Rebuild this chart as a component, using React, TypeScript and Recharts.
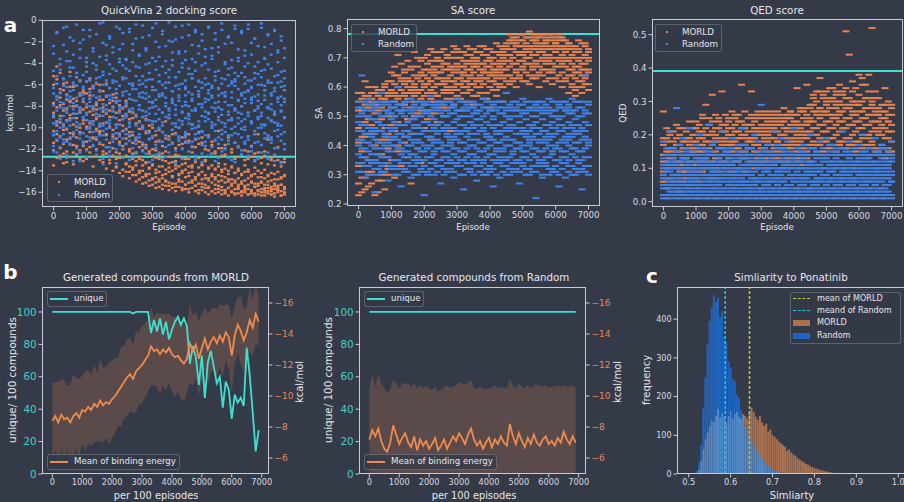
import React from "react";
import {
  ScatterChart,
  Scatter,
  XAxis,
  YAxis,
  ReferenceLine,
  ComposedChart,
  Line,
  Area,
  Bar,
} from "recharts";

// ---------- data ----------
const episodes = [
  0, 100, 200, 300, 400, 500, 600, 700, 800, 900, 1000, 1100, 1200, 1300, 1400, 1500, 1600, 1700, 1800, 1900,
  2000, 2100, 2200, 2300, 2400, 2500, 2600, 2700, 2800, 2900, 3000, 3100, 3200, 3300, 3400, 3500, 3600, 3700,
  3800, 3900, 4000, 4100, 4200, 4300, 4400, 4500, 4600, 4700, 4800, 4900, 5000, 5100, 5200, 5300, 5400, 5500,
  5600, 5700, 5800, 5900, 6000, 6100, 6200, 6300, 6400, 6500, 6600, 6700, 6800, 6900, 7000,
];
const episodeTicks = [0, 1000, 2000, 3000, 4000, 5000, 6000, 7000];

// docking score, values sampled per 100 episodes (two batches each)
const dockRandom = [
  [-3.1, -6.8, -8.9, -10.4, -11.7], [-1.2, -7.4, -9.6, -5.9, -12.3], [-4.6, -8.1, -10.9, -6.7, -9.2],
  [-2.3, -5.4, -9.8, -7.7, -11.1], [-0.6, -6.2, -8.4, -10.2, -12.8], [-3.8, -7.1, -9.3, -11.5, -5.2],
  [-1.9, -6.5, -8.7, -10.8, -4.4], [-4.9, -7.9, -9.9, -6.1, -11.9], [-2.7, -5.7, -8.2, -10.6, -13.1],
  [-0.9, -6.9, -9.1, -7.3, -11.3], [-3.5, -4.8, -8.6, -10.1, -12.1], [-1.5, -7.6, -9.4, -5.5, -10.9],
  [-2.9, -6.3, -8.0, -11.6, -9.7], [-4.2, -7.2, -10.3, -5.8, -12.5], [-0.3, -6.6, -8.8, -9.9, -11.4],
  [-2.1, -5.1, -7.8, -10.7, -12.9], [-3.3, -6.0, -9.5, -8.3, -11.8], [-1.7, -7.0, -4.1, -10.0, -12.2],
  [-2.5, -5.6, -8.5, -9.0, -11.0], [-4.7, -6.4, -9.7, -7.5, -13.3], [-0.8, -3.9, -8.1, -10.5, -11.6],
  [-2.2, -6.7, -9.2, -5.3, -12.0], [-3.6, -7.7, -10.6, -8.7, -4.5], [-1.1, -5.9, -8.3, -11.2, -9.6],
  [-2.8, -6.1, -7.4, -10.4, -12.6], [-0.4, -4.3, -8.9, -9.8, -11.5], [-3.2, -6.8, -7.9, -10.9, -5.6],
  [-1.6, -5.2, -9.0, -11.7, -8.4], [-2.6, -7.3, -6.2, -10.3, -12.4], [-4.0, -5.5, -8.7, -9.3, -11.1],
  [-0.7, -6.5, -7.6, -10.8, -13.0], [-2.0, -4.6, -9.4, -8.0, -11.9], [-3.4, -7.1, -5.7, -10.1, -12.3],
  [-1.3, -6.0, -8.6, -9.5, -11.3], [-2.4, -4.9, -7.2, -10.7, -12.7], [-0.2, -5.8, -8.2, -9.1, -11.6],
  [-3.0, -6.6, -7.7, -10.2, -4.2], [-1.8, -5.3, -9.6, -8.8, -12.1], [-2.9, -7.5, -6.4, -11.0, -10.0],
  [-0.5, -4.4, -8.0, -9.7, -12.9], [-3.7, -6.2, -7.0, -10.6, -11.4], [-1.4, -5.0, -8.9, -9.2, -12.2],
  [-2.3, -6.9, -7.5, -11.3, -5.4], [-0.9, -4.7, -8.4, -10.0, -12.6], [-3.1, -5.6, -9.9, -7.8, -11.0],
  [-1.9, -6.3, -8.1, -10.4, -13.2], [-2.7, -4.0, -7.3, -9.4, -11.7], [-0.6, -5.9, -8.7, -10.9, -6.8],
  [-3.3, -7.0, -6.1, -9.8, -12.4], [-1.2, -4.8, -8.5, -10.3, -11.2], [-2.5, -6.4, -7.6, -9.0, -12.8],
  [-0.3, -5.4, -8.3, -11.1, -10.2], [-3.9, -6.7, -7.1, -9.6, -12.0], [-1.6, -4.5, -8.8, -10.7, -11.5],
  [-2.1, -5.7, -7.9, -9.3, -13.0], [-0.8, -6.1, -8.2, -10.5, -4.9], [-3.5, -5.2, -9.1, -7.4, -11.8],
  [-1.0, -6.8, -8.0, -10.1, -12.5], [-2.8, -4.3, -7.7, -9.9, -11.3], [-0.4, -5.6, -8.6, -10.8, -6.5],
  [-3.2, -7.2, -6.3, -9.5, -12.2], [-1.7, -4.9, -8.4, -11.4, -10.6], [-2.4, -6.0, -7.5, -9.2, -12.9],
  [-0.7, -5.3, -8.9, -10.0, -11.6], [-3.6, -6.5, -7.0, -9.7, -4.6], [-1.3, -4.1, -8.1, -10.9, -12.3],
  [-2.2, -5.8, -7.8, -9.4, -11.1], [-0.9, -6.6, -8.7, -10.3, -13.1], [-3.0, -5.1, -7.3, -9.8, -11.9],
  [-1.5, -6.2, -8.5, -10.6, -5.7], [-2.6, -4.7, -7.6, -9.1, -12.0],
];
const dockRandomB = [
  [-2.4, -4.7, -6.3, -7.9, -8.8, -9.6, -10.7, -12.2], [-1.1, -5.2, -5.9, -7.1, -8.4, -10.3, -11.1, -9.5],
  [-3.6, -4.1, -6.8, -7.6, -9.2, -10.0, -11.8, -12.9], [-0.7, -5.5, -6.1, -8.2, -8.9, -9.9, -10.6, -11.4],
  [-2.9, -3.8, -7.3, -7.0, -8.6, -9.4, -11.3, -12.5], [-1.6, -4.4, -6.6, -8.0, -9.8, -10.9, -11.6, -7.4],
  [-3.2, -5.8, -6.0, -7.7, -8.3, -9.1, -10.4, -13.1], [-0.4, -4.9, -5.3, -7.2, -9.5, -10.2, -11.9, -8.7],
  [-2.1, -3.5, -6.9, -8.1, -8.5, -9.7, -11.0, -12.3], [-1.8, -5.1, -6.4, -7.5, -9.0, -10.5, -11.5, -6.2],
  [-3.9, -4.3, -5.7, -7.8, -8.8, -9.3, -10.8, -12.7], [-0.9, -5.6, -6.7, -7.3, -8.0, -9.9, -11.2, -10.1],
  [-2.6, -4.0, -6.2, -8.4, -9.4, -10.4, -11.7, -7.0], [-1.3, -4.6, -5.4, -7.6, -8.7, -9.0, -10.9, -12.1],
  [-3.4, -5.3, -6.5, -7.1, -9.6, -10.7, -11.4, -8.2], [-0.2, -4.8, -6.0, -8.3, -8.9, -9.8, -10.3, -13.4],
  [-2.3, -3.7, -7.0, -7.9, -8.6, -10.1, -11.1, -5.6], [-1.5, -5.0, -6.3, -7.4, -9.3, -9.6, -11.8, -12.6],
  [-3.0, -4.5, -5.8, -8.0, -8.4, -10.6, -11.3, -7.2], [-0.6, -5.7, -6.8, -7.7, -9.1, -10.0, -10.5, -12.0],
  [-2.7, -3.6, -6.1, -8.6, -9.7, -10.8, -11.6, -7.5], [-1.2, -4.2, -5.5, -7.0, -8.1, -9.2, -11.0, -12.8],
  [-3.7, -5.4, -6.6, -7.8, -8.8, -10.2, -11.5, -9.0], [-0.8, -4.7, -6.9, -7.3, -9.5, -9.9, -10.7, -13.0],
  [-2.2, -3.9, -5.9, -8.2, -8.5, -10.4, -11.9, -6.4], [-1.7, -5.2, -6.4, -7.5, -9.0, -10.9, -11.2, -12.4],
  [-3.3, -4.4, -6.0, -7.9, -8.3, -9.5, -10.6, -7.1], [-0.5, -5.9, -6.7, -7.2, -9.8, -10.1, -11.4, -12.2],
  [-2.8, -4.1, -5.6, -8.5, -8.9, -9.3, -11.7, -6.8], [-1.4, -4.9, -7.1, -7.6, -8.2, -10.5, -11.0, -13.2],
  [-3.5, -5.5, -6.2, -8.1, -9.4, -9.7, -10.8, -7.7], [-0.3, -3.8, -6.5, -7.4, -8.7, -10.3, -11.6, -12.5],
  [-2.5, -5.1, -5.7, -8.3, -9.2, -10.0, -11.3, -6.9], [-1.0, -4.3, -6.8, -7.0, -8.6, -9.8, -10.4, -12.9],
  [-3.8, -5.8, -6.3, -7.7, -9.0, -10.7, -11.8, -8.0], [-1.9, -4.6, -5.3, -8.4, -8.8, -9.1, -11.1, -12.3],
  [-2.0, -3.7, -6.6, -7.5, -9.6, -10.2, -11.5, -7.3], [-0.6, -5.3, -6.1, -7.9, -8.3, -9.9, -10.6, -13.3],
  [-3.1, -4.8, -7.0, -7.2, -9.3, -10.8, -11.2, -6.0], [-1.6, -4.0, -5.9, -8.6, -8.5, -9.4, -11.9, -12.0],
  [-2.9, -5.6, -6.4, -7.6, -9.1, -10.4, -10.9, -7.9], [-0.4, -4.5, -6.7, -8.0, -8.7, -9.6, -11.4, -12.7],
  [-3.6, -5.0, -5.4, -7.3, -9.7, -10.1, -11.7, -8.4], [-1.1, -3.9, -6.2, -8.2, -8.4, -10.6, -11.0, -13.0],
  [-2.4, -5.7, -6.9, -7.1, -9.4, -9.8, -10.5, -6.6], [-1.3, -4.2, -5.8, -7.8, -8.9, -10.3, -11.6, -12.4],
  [-3.4, -5.4, -6.0, -8.5, -9.0, -10.7, -11.3, -7.6], [-0.7, -4.6, -6.5, -7.4, -8.6, -9.2, -10.8, -12.6],
  [-2.6, -3.6, -7.2, -8.1, -9.5, -10.0, -11.8, -6.3], [-1.8, -5.2, -5.6, -7.7, -8.2, -9.7, -11.1, -13.1],
  [-3.0, -4.7, -6.3, -7.0, -9.3, -10.9, -11.5, -8.1], [-0.9, -5.9, -6.8, -8.3, -8.8, -9.5, -10.6, -12.2],
  [-2.2, -4.1, -5.5, -7.6, -9.9, -10.4, -11.9, -7.0], [-1.5, -5.1, -6.1, -7.9, -8.5, -9.3, -11.2, -12.8],
  [-3.7, -4.4, -6.7, -7.2, -9.1, -10.1, -10.7, -5.9], [-0.5, -5.5, -5.7, -8.4, -8.3, -9.9, -11.4, -13.2],
  [-2.7, -3.8, -6.4, -7.5, -9.6, -10.6, -11.7, -8.6], [-1.2, -4.9, -7.0, -8.0, -8.7, -9.4, -10.9, -12.1],
  [-3.3, -5.3, -5.9, -7.3, -9.2, -10.2, -11.5, -6.7], [-0.8, -4.0, -6.6, -8.6, -8.9, -10.8, -11.1, -12.6],
  [-2.1, -5.6, -6.2, -7.7, -9.4, -9.6, -11.8, -7.4], [-1.7, -4.3, -5.4, -7.1, -8.4, -10.3, -10.6, -13.0],
  [-3.9, -5.0, -6.9, -8.2, -9.0, -10.0, -11.3, -8.0], [-0.3, -4.7, -6.0, -7.8, -8.6, -9.7, -11.6, -12.3],
  [-2.5, -3.5, -6.5, -7.4, -9.8, -10.5, -11.0, -6.1], [-1.4, -5.8, -5.6, -8.1, -8.2, -9.1, -10.7, -12.9],
  [-3.2, -4.5, -6.8, -7.0, -9.3, -10.9, -11.4, -8.3], [-1.0, -5.2, -6.3, -8.5, -8.8, -9.5, -11.9, -12.5],
  [-2.8, -3.9, -5.8, -7.6, -9.6, -10.2, -10.8, -7.2], [-1.9, -4.8, -7.1, -7.9, -8.4, -9.8, -11.2, -13.3],
  [-3.5, -5.4, -6.1, -7.3, -9.0, -10.4, -11.5, -6.5],
];
const dockMorld = [
  [-5.2, -8.6, -10.3, -12.1], [-7.1, -9.4, -11.2, -4.3], [-6.4, -8.9, -10.8, -12.6], [-7.8, -9.7, -5.9, -11.5],
  [-6.9, -8.2, -10.1, -13.2], [-4.8, -9.1, -11.0, -7.5], [-7.3, -8.7, -10.6, -12.3], [-6.1, -9.9, -11.7, -8.0],
  [-5.6, -8.4, -10.4, -12.9], [-7.6, -9.3, -11.3, -6.6], [-6.8, -8.1, -10.0, -12.0], [-7.0, -9.6, -11.8, -5.4],
  [-6.3, -8.8, -10.9, -12.7], [-7.9, -9.2, -11.1, -8.3], [-6.6, -9.8, -10.5, -13.0], [-7.4, -8.5, -11.6, -12.2],
  [-5.9, -9.5, -10.7, -12.4], [-7.7, -9.0, -11.4, -13.3], [-8.1, -10.2, -11.9, -6.9], [-7.2, -9.7, -12.3, -13.6],
  [-8.4, -10.6, -11.5, -12.8], [-8.9, -10.3, -12.0, -13.9], [-7.5, -11.0, -12.6, -13.4], [-9.2, -10.8, -12.2, -14.1],
  [-8.6, -11.4, -12.9, -13.7], [-9.6, -11.2, -13.1, -14.4], [-10.1, -11.8, -12.7, -14.0], [-9.0, -12.1, -13.5, -14.6],
  [-10.5, -11.6, -13.2, -14.3], [-9.8, -12.4, -13.8, -14.9], [-10.9, -12.0, -13.4, -14.7], [-11.3, -12.8, -14.2, -15.1],
  [-10.2, -12.5, -13.6, -14.8], [-11.7, -13.0, -14.4, -15.3], [-9.4, -12.2, -13.9, -15.0], [-11.1, -13.3, -14.1, -15.4],
  [-10.6, -12.7, -14.5, -15.2], [-11.9, -13.1, -13.8, -15.5], [-10.0, -12.6, -14.3, -15.0], [-11.5, -13.4, -14.0, -15.6],
  [-10.8, -12.9, -14.6, -15.3], [-11.2, -13.6, -14.2, -15.7], [-9.7, -12.3, -13.7, -15.1], [-11.8, -13.2, -14.8, -15.4],
  [-10.4, -12.8, -14.4, -15.8], [-11.4, -13.5, -14.1, -15.2], [-12.0, -13.0, -14.7, -15.6], [-10.7, -13.7, -14.9, -15.5],
  [-11.6, -12.4, -14.3, -15.9], [-12.2, -13.8, -14.6, -15.3], [-10.3, -13.3, -15.0, -15.7], [-11.9, -13.9, -14.5, -15.8],
  [-12.5, -13.4, -15.1, -16.0], [-10.9, -14.0, -14.8, -15.6], [-12.3, -13.6, -15.2, -15.9], [-11.4, -14.2, -14.9, -16.1],
  [-12.7, -13.8, -15.3, -15.7], [-10.1, -14.3, -15.0, -16.0], [-12.1, -13.5, -15.4, -15.8], [-12.9, -14.1, -14.7, -16.2],
  [-11.7, -14.4, -15.1, -15.9], [-12.4, -13.7, -15.5, -16.1], [-10.6, -14.0, -15.2, -15.8], [-12.8, -14.6, -15.0, -16.3],
  [-12.2, -13.9, -15.6, -16.0], [-11.1, -14.5, -15.3, -15.9], [-13.0, -14.2, -15.7, -16.2], [-12.6, -14.8, -15.4, -16.1],
  [-11.8, -14.1, -15.6, -15.8], [-13.2, -14.7, -15.3, -16.3], [-12.9, -14.4, -15.5, -16.0],
];
const dockMorldB = [
  [-6.0, -7.7, -9.0, -11.4, -13.5], [-5.5, -8.1, -9.8, -10.6, -12.8], [-7.2, -7.9, -9.5, -11.9, -4.9],
  [-6.5, -8.4, -10.2, -12.4, -13.3], [-5.8, -7.4, -9.3, -11.1, -12.2], [-7.6, -8.8, -10.5, -12.7, -6.2],
  [-6.2, -8.0, -9.7, -11.6, -13.4], [-5.3, -7.5, -9.1, -10.9, -12.5], [-7.0, -8.6, -10.0, -12.1, -6.8],
  [-6.7, -8.3, -9.6, -11.7, -13.1], [-5.7, -7.8, -9.9, -11.3, -12.9], [-7.3, -8.5, -10.4, -12.3, -6.4],
  [-6.1, -8.2, -9.4, -11.0, -13.6], [-5.9, -7.7, -10.1, -12.0, -12.6], [-7.4, -8.9, -10.3, -11.5, -6.0],
  [-6.6, -8.1, -9.6, -12.5, -13.2], [-7.1, -8.7, -10.6, -11.8, -13.8], [-6.3, -8.4, -9.9, -12.2, -13.0],
  [-7.5, -9.0, -10.8, -12.6, -14.0], [-6.8, -8.6, -11.0, -12.9, -13.7], [-7.9, -9.3, -11.3, -12.4, -14.2],
  [-8.2, -9.8, -11.7, -12.8, -14.5], [-8.0, -10.1, -11.5, -13.3, -14.1], [-8.5, -10.4, -12.0, -13.6, -14.7],
  [-9.1, -10.7, -12.4, -13.9, -14.4], [-8.8, -11.0, -12.3, -13.5, -15.0], [-9.4, -11.3, -12.9, -14.2, -14.8],
  [-9.9, -11.5, -13.0, -14.0, -15.2], [-9.2, -11.9, -13.3, -14.5, -15.1], [-10.3, -12.2, -13.7, -14.3, -15.4],
  [-10.0, -12.6, -13.5, -14.8, -15.3], [-10.7, -12.1, -13.9, -14.6, -15.6], [-11.2, -12.9, -14.1, -15.0, -15.5],
  [-10.4, -12.4, -13.6, -14.7, -15.7], [-11.0, -13.1, -14.3, -14.9, -15.4], [-10.8, -12.7, -13.7, -15.1, -15.8],
  [-11.4, -13.2, -14.0, -14.6, -15.6], [-10.5, -12.5, -13.5, -15.2, -15.9], [-11.6, -13.6, -14.4, -14.8, -15.5],
  [-10.9, -12.8, -14.2, -15.0, -15.8], [-11.3, -13.3, -13.9, -15.3, -15.7], [-10.6, -12.9, -14.5, -15.1, -16.0],
  [-11.8, -13.5, -14.1, -14.9, -15.6], [-11.1, -13.0, -14.6, -15.4, -15.9], [-11.5, -13.7, -14.3, -15.2, -16.1],
  [-10.9, -13.4, -14.8, -15.5, -15.8], [-11.7, -13.1, -14.4, -15.3, -16.0], [-12.1, -13.8, -14.7, -15.6, -16.2],
  [-11.3, -13.5, -14.5, -15.1, -15.9], [-12.4, -13.9, -14.8, -15.7, -16.1], [-11.9, -13.6, -14.4, -15.4, -16.0],
  [-12.6, -14.1, -14.9, -15.5, -16.2], [-11.6, -13.8, -14.6, -15.8, -16.1], [-12.8, -14.3, -15.0, -15.6, -16.3],
  [-12.0, -13.7, -14.8, -15.4, -16.0], [-12.9, -14.2, -15.1, -15.7, -16.2], [-11.8, -14.0, -14.7, -15.5, -16.1],
  [-12.5, -14.4, -15.2, -15.9, -16.3], [-13.0, -14.1, -14.9, -15.6, -16.0], [-12.2, -13.9, -15.3, -15.7, -16.2],
  [-12.7, -14.5, -15.0, -15.8, -16.1], [-13.1, -14.3, -15.2, -15.5, -16.3], [-12.3, -14.6, -15.4, -15.9, -16.2],
  [-13.3, -14.2, -15.1, -15.7, -16.0], [-12.6, -14.7, -15.3, -15.8, -16.3], [-13.4, -14.4, -15.0, -15.6, -16.1],
  [-12.8, -14.9, -15.5, -15.9, -16.2], [-13.5, -14.3, -15.2, -15.7, -16.4], [-13.0, -14.8, -15.4, -15.8, -16.0],
  [-13.6, -14.6, -15.3, -15.9, -16.3], [-13.2, -14.5, -15.6, -15.7, -16.2],
];

// SA score
const saRandom = [
  [.31, .37, .42, .48, .53], [.34, .39, .45, .51, .64], [.29, .36, .41, .47, .55], [.33, .38, .44, .50, .54],
  [.30, .40, .43, .49, .52], [.24, .35, .42, .46, .53], [.32, .37, .45, .48, .55], [.31, .39, .41, .50, .58],
  [.34, .36, .44, .47, .52], [.28, .38, .43, .51, .54], [.33, .40, .42, .49, .55], [.30, .35, .46, .48, .53],
  [.32, .39, .44, .52, .60], [.26, .37, .41, .47, .54], [.31, .36, .45, .50, .55], [.34, .38, .43, .48, .52],
  [.29, .40, .42, .51, .56], [.33, .37, .46, .49, .54], [.30, .39, .44, .47, .53], [.32, .35, .41, .50, .55],
  [.23, .38, .45, .48, .52], [.31, .36, .43, .51, .54], [.34, .40, .42, .47, .57], [.30, .37, .46, .49, .53],
  [.33, .39, .44, .52, .55], [.27, .35, .41, .48, .54], [.32, .38, .45, .50, .52], [.31, .36, .43, .47, .55],
  [.34, .40, .42, .51, .53], [.29, .37, .46, .48, .54], [.33, .39, .44, .49, .56], [.30, .35, .41, .50, .52],
  [.25, .38, .45, .47, .55], [.32, .36, .43, .52, .54], [.31, .40, .42, .48, .53], [.34, .37, .46, .51, .55],
  [.28, .39, .44, .49, .52], [.33, .35, .41, .47, .54], [.30, .38, .45, .50, .56], [.32, .36, .43, .48, .53],
  [.31, .40, .42, .52, .55], [.26, .37, .46, .49, .54], [.34, .39, .44, .47, .52], [.29, .35, .41, .51, .55],
  [.33, .38, .45, .48, .53], [.30, .36, .43, .50, .58], [.32, .40, .42, .49, .54], [.31, .37, .46, .47, .55],
  [.34, .39, .44, .52, .53], [.27, .35, .41, .48, .54], [.33, .38, .45, .51, .56], [.30, .36, .43, .49, .52],
  [.32, .40, .42, .47, .55], [.31, .37, .46, .50, .53], [.22, .39, .44, .48, .54], [.34, .35, .41, .52, .55],
  [.29, .38, .45, .49, .53], [.33, .36, .43, .47, .54], [.30, .40, .42, .51, .56], [.32, .37, .46, .48, .52],
  [.31, .39, .44, .50, .55], [.26, .35, .41, .49, .54], [.34, .38, .45, .47, .53], [.29, .36, .43, .52, .55],
  [.33, .40, .42, .48, .54], [.30, .37, .46, .51, .56], [.32, .39, .44, .49, .52], [.31, .35, .41, .47, .55],
  [.25, .38, .45, .50, .53], [.33, .36, .43, .48, .64], [.30, .40, .42, .51, .54],
];
const saRandomB = [
  [.34, .40, .45, .50, .55], [.31, .36, .42, .47, .53], [.33, .39, .44, .50, .52], [.30, .35, .41, .46, .56],
  [.34, .37, .45, .52, .54], [.32, .39, .44, .49, .55], [.30, .34, .41, .51, .53], [.33, .36, .45, .47, .54],
  [.31, .40, .43, .50, .55], [.34, .36, .41, .46, .52], [.32, .38, .45, .51, .53], [.33, .40, .43, .50, .55],
  [.30, .35, .42, .47, .54], [.34, .39, .44, .51, .52], [.32, .38, .43, .47, .53], [.31, .36, .40, .45, .55],
  [.33, .37, .44, .49, .53], [.30, .35, .41, .47, .52], [.34, .36, .42, .50, .55], [.31, .38, .44, .46, .53],
  [.33, .35, .40, .51, .54], [.30, .39, .45, .48, .55], [.32, .36, .43, .50, .52], [.34, .38, .41, .45, .54],
  [.31, .35, .42, .47, .53], [.33, .39, .45, .51, .55], [.30, .36, .40, .46, .54], [.34, .38, .44, .50, .52],
  [.32, .35, .41, .46, .55], [.31, .39, .43, .51, .53], [.34, .36, .42, .45, .52], [.33, .38, .44, .47, .55],
  [.30, .35, .41, .50, .53], [.34, .39, .45, .46, .52], [.32, .37, .44, .50, .55], [.30, .35, .40, .47, .53],
  [.33, .36, .42, .51, .54], [.31, .38, .45, .49, .52], [.34, .35, .41, .46, .53], [.30, .39, .44, .51, .55],
  [.33, .37, .43, .47, .52], [.32, .35, .42, .50, .53], [.30, .38, .41, .45, .55], [.34, .36, .44, .47, .53],
  [.31, .39, .42, .51, .55], [.33, .35, .40, .46, .52], [.30, .36, .45, .47, .53], [.34, .38, .42, .50, .52],
  [.32, .35, .41, .46, .55], [.31, .39, .44, .50, .52], [.34, .36, .40, .46, .54], [.32, .38, .44, .51, .55],
  [.30, .35, .41, .45, .53], [.33, .39, .43, .47, .52], [.31, .36, .42, .50, .55], [.33, .38, .44, .46, .53],
  [.30, .35, .42, .51, .55], [.34, .39, .41, .45, .52], [.32, .36, .44, .47, .53], [.31, .38, .43, .50, .55],
  [.33, .35, .40, .46, .52], [.30, .39, .45, .47, .53], [.32, .36, .42, .50, .55], [.34, .38, .41, .46, .52],
  [.31, .35, .44, .51, .53], [.33, .39, .43, .47, .52], [.30, .36, .41, .45, .55], [.34, .38, .44, .50, .53],
  [.32, .35, .42, .46, .55], [.31, .39, .45, .51, .52], [.33, .36, .41, .47, .55],
];
const saMorld = [
  [.27, .41, .52, .58], [.24, .38, .47, .56], [.29, .43, .54, .62], [.26, .35, .49, .57], [.31, .44, .55, .58],
  [.23, .40, .51, .60], [.28, .37, .48, .57], [.30, .45, .53, .59], [.25, .42, .56, .61], [.32, .39, .50, .58],
  [.35, .47, .57, .62], [.29, .50, .58, .64], [.38, .48, .56, .71], [.33, .52, .59, .63], [.41, .54, .57, .66],
  [.36, .49, .60, .62], [.27, .53, .58, .67], [.44, .55, .61, .64], [.39, .51, .59, .70], [.34, .56, .62, .65],
  [.46, .57, .61, .66], [.52, .58, .63, .68], [.42, .59, .62, .73], [.55, .60, .64, .67], [.48, .57, .63, .69],
  [.53, .61, .65, .72], [.50, .59, .62, .68], [.56, .60, .66, .70], [.45, .58, .64, .67], [.54, .62, .65, .74],
  [.57, .61, .66, .70], [.52, .63, .67, .72], [.58, .62, .65, .69], [.55, .60, .68, .71], [.59, .64, .66, .73],
  [.54, .61, .67, .70], [.57, .63, .69, .72], [.60, .62, .66, .74], [.56, .65, .68, .71], [.58, .63, .67, .73],
  [.53, .62, .69, .70], [.59, .64, .66, .72], [.57, .61, .68, .75], [.60, .65, .67, .71], [.55, .63, .70, .73],
  [.58, .66, .69, .74], [.61, .67, .71, .76], [.63, .68, .73, .77], [.60, .66, .72, .75], [.64, .69, .74, .78],
  [.62, .67, .71, .76], [.65, .70, .73, .77], [.61, .68, .72, .79], [.63, .66, .74, .76], [.64, .69, .71, .77],
  [.60, .67, .73, .78], [.66, .70, .72, .75], [.62, .68, .74, .77], [.65, .69, .71, .76], [.61, .66, .73, .78],
  [.63, .70, .72, .75], [.64, .67, .74, .77], [.60, .68, .71, .76], [.62, .69, .73, .74], [.58, .66, .70, .75],
  [.61, .64, .68, .73], [.57, .63, .67, .72], [.60, .65, .69, .76], [.58, .62, .66, .70], [.61, .64, .68, .75],
  [.59, .66, .70, .73],
];
const saMorldB = [
  [.33, .46, .55, .23], [.29, .43, .52, .58], [.36, .48, .57, .25], [.31, .44, .53, .60], [.27, .47, .56, .34],
  [.35, .45, .54, .58], [.24, .42, .52, .59], [.37, .49, .56, .28], [.33, .46, .55, .60], [.30, .44, .57, .62],
  [.42, .53, .59, .65], [.45, .55, .61, .67], [.40, .57, .60, .64], [.47, .54, .62, .68], [.43, .58, .61, .65],
  [.49, .56, .63, .69], [.44, .59, .62, .66], [.50, .57, .60, .72], [.46, .58, .63, .67], [.52, .59, .64, .69],
  [.54, .60, .64, .70], [.49, .61, .66, .71], [.56, .62, .65, .69], [.51, .58, .66, .72], [.57, .61, .65, .70],
  [.55, .63, .67, .69], [.58, .61, .66, .73], [.53, .63, .68, .71], [.59, .62, .66, .70], [.56, .60, .67, .72],
  [.59, .63, .68, .73], [.56, .61, .65, .70], [.60, .64, .67, .72], [.58, .62, .66, .74], [.61, .63, .69, .71],
  [.57, .65, .68, .73], [.60, .62, .67, .70], [.58, .64, .68, .72], [.61, .63, .66, .74], [.56, .65, .69, .71],
  [.60, .64, .67, .73], [.62, .65, .68, .70], [.59, .63, .66, .72], [.61, .64, .69, .74], [.60, .66, .68, .72],
  [.62, .64, .71, .75], [.64, .69, .73, .78], [.62, .70, .75, .76], [.65, .68, .74, .77], [.63, .71, .72, .76],
  [.66, .69, .74, .78], [.62, .68, .72, .75], [.64, .70, .74, .77], [.67, .71, .73, .78], [.63, .68, .75, .76],
  [.65, .72, .74, .77], [.64, .69, .73, .78], [.66, .71, .75, .76], [.63, .70, .73, .78], [.65, .68, .74, .77],
  [.67, .72, .75, .76], [.62, .69, .73, .78], [.65, .70, .74, .77], [.63, .67, .72, .76], [.64, .69, .73, .75],
  [.60, .66, .71, .74], [.59, .65, .70, .74], [.62, .67, .72, .73], [.60, .64, .68, .75], [.63, .66, .71, .74],
  [.61, .65, .69, .72],
];

// QED score
const qedRandom = [
  [.02, .05, .08, .11, .18], [.01, .04, .07, .12, .14], [.03, .06, .09, .10, .21], [.02, .05, .08, .13, .16],
  [.01, .04, .07, .11, .28], [.03, .06, .09, .12, .14], [.02, .05, .10, .13, .19], [.01, .04, .08, .11, .15],
  [.03, .07, .09, .12, .22], [.02, .05, .08, .10, .14], [.01, .06, .07, .13, .17], [.03, .04, .09, .11, .20],
  [.02, .05, .08, .12, .14], [.01, .07, .10, .13, .16], [.03, .06, .08, .11, .23], [.02, .04, .09, .12, .15],
  [.01, .05, .07, .10, .18], [.03, .06, .08, .13, .14], [.02, .04, .09, .11, .21], [.01, .07, .10, .12, .16],
  [.03, .05, .08, .13, .15], [.02, .06, .07, .11, .19], [.01, .04, .09, .12, .14], [.03, .05, .08, .10, .17],
  [.02, .07, .10, .13, .22], [.01, .06, .09, .11, .15], [.03, .04, .08, .12, .16], [.02, .05, .07, .13, .14],
  [.01, .06, .09, .11, .20], [.03, .07, .10, .12, .18], [.02, .04, .08, .13, .29], [.01, .05, .09, .11, .15],
  [.03, .06, .07, .12, .17], [.02, .04, .10, .13, .14], [.01, .07, .08, .11, .21], [.03, .05, .09, .12, .16],
  [.02, .06, .08, .10, .19], [.01, .04, .07, .13, .15], [.03, .05, .09, .11, .18], [.02, .07, .10, .12, .14],
  [.01, .06, .08, .13, .22], [.03, .04, .09, .11, .16], [.02, .05, .07, .12, .15], [.01, .06, .10, .13, .17],
  [.03, .07, .08, .11, .14], [.02, .04, .09, .12, .20], [.01, .05, .08, .10, .16], [.03, .06, .07, .13, .15],
  [.02, .04, .09, .11, .18], [.01, .07, .10, .12, .14], [.03, .05, .08, .13, .19], [.02, .06, .09, .11, .15],
  [.01, .04, .07, .12, .17], [.03, .05, .10, .13, .16], [.02, .07, .08, .11, .14], [.01, .06, .09, .12, .21],
  [.03, .04, .08, .10, .15], [.02, .05, .07, .13, .18], [.01, .06, .09, .11, .16], [.03, .07, .10, .12, .14],
  [.02, .04, .08, .13, .17], [.01, .05, .09, .11, .20], [.03, .06, .07, .12, .15], [.02, .04, .10, .13, .16],
  [.01, .07, .08, .11, .14], [.03, .05, .09, .12, .19], [.02, .06, .08, .10, .15], [.01, .04, .07, .13, .17],
  [.03, .05, .09, .11, .16], [.02, .07, .10, .12, .14], [.01, .06, .08, .13, .18],
];
const qedRandomB = [
  [.01, .04, .07, .10, .13], [.02, .05, .09, .11, .16], [.01, .04, .07, .12, .14], [.03, .06, .10, .11, .14],
  [.02, .05, .08, .12, .15], [.01, .04, .07, .10, .17], [.03, .06, .08, .12, .14], [.02, .05, .10, .13, .16],
  [.01, .04, .06, .11, .14], [.03, .06, .09, .12, .15], [.02, .04, .08, .10, .14], [.01, .05, .07, .12, .16],
  [.03, .06, .10, .11, .13], [.02, .04, .08, .12, .15], [.01, .05, .07, .10, .14], [.03, .06, .08, .11, .17],
  [.02, .04, .09, .12, .14], [.01, .05, .07, .11, .16], [.03, .06, .10, .12, .14], [.02, .04, .08, .11, .15],
  [.01, .06, .09, .10, .14], [.03, .04, .08, .12, .16], [.02, .05, .07, .10, .13], [.01, .06, .09, .12, .15],
  [.03, .04, .06, .11, .14], [.02, .05, .08, .13, .17], [.01, .06, .09, .10, .14], [.03, .04, .08, .11, .16],
  [.02, .05, .07, .12, .14], [.01, .04, .06, .10, .15], [.03, .06, .10, .11, .14], [.02, .04, .07, .12, .16],
  [.01, .05, .09, .10, .14], [.03, .06, .08, .11, .15], [.02, .04, .06, .12, .14], [.01, .05, .07, .10, .17],
  [.03, .04, .09, .12, .14], [.02, .06, .10, .11, .16], [.01, .04, .07, .12, .14], [.03, .05, .08, .10, .15],
  [.02, .04, .07, .11, .14], [.01, .06, .10, .12, .16], [.03, .04, .08, .10, .14], [.02, .05, .07, .12, .15],
  [.01, .04, .09, .10, .14], [.03, .06, .08, .11, .16], [.02, .04, .06, .12, .14], [.01, .05, .09, .11, .15],
  [.03, .06, .07, .10, .14], [.02, .04, .08, .13, .16], [.01, .05, .06, .10, .14], [.03, .04, .07, .12, .17],
  [.02, .06, .09, .10, .14], [.01, .04, .08, .11, .15], [.03, .05, .06, .12, .14], [.02, .04, .07, .10, .16],
  [.01, .06, .09, .11, .14], [.03, .04, .08, .12, .15], [.02, .05, .07, .10, .14], [.01, .04, .06, .11, .16],
  [.03, .06, .09, .12, .14], [.02, .04, .07, .10, .15], [.01, .05, .08, .13, .14], [.03, .06, .09, .11, .16],
  [.02, .04, .06, .12, .14], [.01, .05, .07, .10, .15], [.03, .04, .09, .11, .14], [.02, .06, .08, .12, .16],
  [.01, .04, .07, .10, .14], [.03, .05, .08, .11, .15], [.02, .06, .09, .12, .14],
];
const qedMorld = [
  [.06, .12, .17, .27], [.04, .10, .15, .19], [.07, .13, .16, .21], [.05, .11, .14, .18], [.08, .12, .17, .23],
  [.03, .10, .15, .20], [.06, .13, .18, .22], [.09, .11, .16, .19], [.05, .14, .17, .24], [.07, .12, .15, .20],
  [.09, .14, .18, .22], [.06, .13, .17, .21], [.10, .15, .19, .25], [.08, .12, .18, .29], [.11, .16, .20, .23],
  [.07, .14, .17, .32], [.10, .15, .19, .22], [.09, .13, .18, .24], [.12, .16, .21, .33], [.08, .14, .19, .23],
  [.11, .17, .20, .25], [.09, .15, .18, .22], [.12, .16, .21, .26], [.10, .14, .19, .24], [.13, .17, .22, .35],
  [.09, .15, .20, .23], [.11, .18, .21, .25], [.12, .16, .19, .33], [.10, .17, .22, .24], [.13, .15, .20, .26],
  [.11, .18, .21, .25], [.12, .16, .23, .27], [.10, .17, .20, .24], [.13, .19, .22, .26], [.11, .15, .21, .25],
  [.14, .18, .23, .27], [.12, .17, .20, .24], [.10, .19, .22, .26], [.13, .16, .21, .25], [.11, .18, .23, .27],
  [.14, .17, .22, .26], [.12, .19, .24, .34], [.13, .18, .21, .27], [.11, .20, .23, .28], [.15, .19, .24, .35],
  [.12, .21, .25, .29], [.16, .22, .27, .31], [.14, .20, .26, .33], [.17, .23, .28, .37], [.15, .21, .27, .32],
  [.18, .24, .29, .33], [.16, .22, .26, .31], [.19, .25, .30, .34], [.15, .23, .28, .32], [.17, .24, .27, .35],
  [.18, .22, .29, .33], [.16, .25, .31, .51], [.19, .23, .28, .44], [.17, .26, .30, .36], [.15, .24, .29, .34],
  [.18, .22, .27, .38], [.20, .25, .30, .37], [.16, .23, .28, .35], [.19, .26, .31, .38], [.17, .24, .29, .52],
  [.15, .22, .27, .33], [.14, .21, .26, .31], [.16, .20, .25, .29], [.13, .22, .27, .34], [.15, .19, .24, .30],
  [.14, .21, .26, .29],
];
const qedMorldB = [
  [.09, .14, .19, .08], [.07, .12, .18, .22], [.10, .15, .11, .20], [.08, .13, .16, .21], [.06, .15, .19, .10],
  [.09, .12, .17, .22], [.11, .14, .16, .09], [.07, .13, .18, .21], [.10, .12, .16, .19], [.08, .15, .18, .22],
  [.11, .16, .20, .24], [.12, .15, .19, .23], [.09, .17, .21, .26], [.13, .16, .20, .22], [.10, .14, .18, .25],
  [.12, .17, .21, .24], [.13, .18, .20, .26], [.11, .16, .22, .25], [.14, .17, .19, .23], [.12, .18, .21, .26],
  [.13, .15, .22, .24], [.11, .17, .20, .27], [.14, .18, .23, .25], [.12, .16, .21, .26], [.15, .19, .20, .24],
  [.13, .17, .22, .27], [.14, .16, .19, .23], [.11, .18, .23, .26], [.15, .19, .21, .25], [.12, .17, .22, .27],
  [.14, .16, .20, .23], [.13, .19, .22, .26], [.15, .18, .21, .25], [.12, .17, .23, .27], [.16, .19, .22, .24],
  [.13, .18, .21, .26], [.15, .16, .23, .25], [.14, .20, .24, .28], [.12, .17, .22, .26], [.16, .19, .25, .27],
  [.13, .18, .21, .24], [.15, .20, .23, .26], [.14, .17, .22, .28], [.16, .19, .25, .27], [.13, .21, .23, .26],
  [.17, .20, .24, .28], [.18, .24, .29, .32], [.17, .22, .27, .30], [.19, .25, .28, .33], [.18, .23, .26, .31],
  [.16, .21, .27, .30], [.19, .24, .28, .34], [.17, .22, .26, .31], [.20, .25, .29, .33], [.18, .21, .26, .30],
  [.16, .24, .27, .32], [.19, .22, .28, .34], [.17, .25, .29, .31], [.20, .23, .27, .33], [.18, .21, .26, .30],
  [.16, .24, .29, .32], [.19, .22, .27, .35], [.17, .25, .28, .31], [.20, .23, .26, .33], [.18, .21, .28, .30],
  [.16, .24, .26, .31], [.15, .20, .24, .28], [.17, .22, .23, .27], [.14, .19, .25, .29], [.16, .21, .24, .26],
  [.15, .18, .23, .28],
];

// generated compounds, per 100 episodes (0 .. 6900)
const morldUnique = [
  100, 100, 100, 100, 100, 100, 100, 100, 100, 100,
  100, 100, 100, 100, 100, 100, 100, 100, 100, 100,
  100, 100, 100, 100, 100, 100, 100, 99, 100, 100,
  100, 100, 100, 87, 95, 88, 96, 86, 94, 83,
  89, 94, 97, 92, 96, 91, 68, 79, 72, 55,
  73, 47, 69, 76, 66, 56, 60, 41, 57, 52,
  34, 49, 44, 47, 42, 78, 61, 38, 14, 27,
];
const morldMean = [
  -8.4, -8.7, -8.3, -8.8, -8.5, -8.6, -8.3, -8.7, -8.9, -8.6,
  -9.1, -9.0, -9.3, -9.1, -9.5, -9.3, -9.7, -9.4, -9.6, -9.5,
  -9.8, -10.0, -10.3, -10.6, -10.9, -11.2, -11.4, -11.1, -11.6, -11.8,
  -12.0, -12.3, -12.6, -13.2, -12.9, -13.0, -12.7, -13.0, -12.8, -13.1,
  -12.7, -12.5, -12.6, -12.3, -12.1, -12.4, -13.4, -12.9, -13.3, -12.4,
  -13.1, -13.7, -13.0, -13.5, -13.8, -13.4, -13.9, -13.5, -14.1, -13.8,
  -12.6, -13.9, -14.6, -14.2, -13.6, -14.1, -14.9, -14.4, -15.3, -14.8,
];
const morldStd = [
  2.4, 2.2, 2.6, 2.3, 2.5, 2.1, 2.4, 2.7, 2.3, 2.5,
  2.2, 2.6, 2.4, 2.3, 2.5, 2.2, 2.7, 2.4, 2.3, 2.6,
  2.5, 2.4, 2.2, 2.6, 2.3, 2.5, 2.4, 2.2, 2.6, 2.3,
  2.5, 2.4, 2.3, 2.5, 2.2, 2.4, 2.6, 2.3, 2.5, 2.2,
  2.4, 2.6, 2.3, 2.5, 2.4, 2.2, 2.5, 2.3, 2.1, 2.4,
  2.2, 2.0, 2.3, 2.1, 1.9, 2.2, 2.0, 2.3, 1.8, 2.1,
  2.4, 1.9, 1.8, 2.2, 2.0, 1.7, 2.1, 1.8, 1.9, 1.6,
];
const randomUnique = [
  100, 100, 100, 100, 100, 100, 100, 100, 100, 100,
  100, 100, 100, 100, 100, 100, 100, 100, 100, 100,
  100, 100, 100, 100, 100, 100, 100, 100, 100, 100,
  100, 100, 100, 100, 100, 100, 100, 100, 100, 100,
  100, 100, 100, 100, 100, 100, 100, 100, 100, 100,
  100, 100, 100, 100, 100, 100, 100, 100, 100, 100,
  100, 100, 100, 100, 100, 100, 100, 100, 100, 100,
];
const randomMean = [
  -7.2, -7.8, -7.4, -7.9, -7.1, -6.6, -6.4, -7.0, -8.1, -7.5,
  -6.9, -7.3, -7.6, -7.0, -6.7, -7.4, -6.5, -7.2, -6.8, -7.1,
  -6.6, -6.9, -7.3, -6.5, -6.8, -7.2, -6.6, -7.0, -7.4, -7.1,
  -7.6, -7.3, -6.9, -7.5, -7.9, -7.2, -6.8, -7.1, -6.6, -7.0,
  -7.3, -6.7, -7.2, -6.9, -7.4, -7.0, -6.8, -8.2, -7.4, -6.9,
  -7.6, -7.1, -6.7, -7.3, -6.9, -7.5, -7.0, -6.8, -7.2, -7.4,
  -6.9, -7.1, -6.8, -7.3, -7.0, -7.7, -7.2, -6.9, -7.4, -7.0,
];
const randomStd = [
  3.3, 3.6, 3.2, 3.5, 3.7, 3.9, 3.8, 3.4, 3.0, 3.3,
  3.6, 3.5, 3.2, 3.8, 3.9, 3.4, 4.0, 3.5, 3.7, 3.6,
  3.9, 3.5, 3.3, 3.8, 3.6, 3.4, 4.1, 3.5, 3.2, 3.6,
  3.3, 3.5, 3.8, 3.4, 3.1, 3.3, 3.7, 3.5, 3.9, 3.4,
  3.2, 3.8, 3.5, 3.6, 3.2, 3.5, 3.7, 2.9, 3.3, 3.6,
  3.2, 3.5, 3.8, 3.4, 3.6, 3.2, 3.7, 3.9, 3.4, 3.3,
  3.6, 3.5, 3.8, 3.4, 3.6, 3.0, 3.4, 3.7, 3.3, 3.5,
];

// similarity histogram (bin centres, counts)
const simBins = [
  0.52, 0.525, 0.53, 0.535, 0.54, 0.545, 0.55, 0.555, 0.56, 0.565, 0.57, 0.575, 0.58, 0.585, 0.59, 0.595,
  0.6, 0.605, 0.61, 0.615, 0.62, 0.625, 0.63, 0.635, 0.64, 0.645, 0.65, 0.655, 0.66, 0.665, 0.67, 0.675,
  0.68, 0.685, 0.69, 0.695, 0.7, 0.705, 0.71, 0.715, 0.72, 0.725, 0.73, 0.735, 0.74, 0.745, 0.75, 0.755,
  0.76, 0.765, 0.77, 0.775, 0.78, 0.785, 0.79, 0.795, 0.8, 0.805, 0.81, 0.815, 0.82, 0.825, 0.83, 0.835,
  0.84, 0.845, 0.85, 0.855, 0.86,
];
const simRandom = [
  8, 30, 75, 170, 250, 335, 395, 430, 462, 445, 455, 405, 420, 355, 340, 290,
  275, 245, 240, 205, 195, 165, 150, 125, 115, 95, 85, 72, 62, 55, 45, 38,
  30, 24, 20, 15, 12, 9, 7, 5, 4, 3, 2, 2, 1, 0, 0, 0,
  0, 0, 0, 0, 0, 0, 0, 0, 0, 0, 0, 0, 0, 0, 0, 0,
  0, 0, 0, 0, 0,
];
const simMorld = [
  3, 12, 35, 65, 90, 108, 125, 140, 135, 150, 168, 145, 158, 148, 132, 150,
  163, 142, 155, 160, 148, 142, 155, 150, 143, 158, 172, 160, 148, 140, 150, 133,
  125, 130, 110, 115, 100, 96, 90, 84, 80, 74, 71, 60, 63, 55, 50, 47,
  40, 37, 33, 30, 26, 24, 20, 18, 15, 14, 12, 10, 9, 7, 6, 5,
  4, 3, 3, 2, 1,
];
const meanMorldSim = 0.645;
const meanRandomSim = 0.587;

// ---------- styling ----------
const BG = "#353a49";
const SPINE = "#c9ccd3";
const TEXT = "#e6e7ea";
const TICK = "#d9dbe0";
const CYAN = "#40e0d0";
const ORANGE = "#ee8b4e";
const PT_ORANGE = "#e9834f";
const PT_BLUE = "#3f84ec";
const H_BLUE = "#1f65c0";
const H_OVER = "#5289c8";
const H_BROWN = "#a8714f";
const FONT = "'DejaVu Sans', Verdana, sans-serif";

const minus = (s: string) => s.replace("-", "\u2212");

function toPoints(batches: number[][][]) {
  const pts: { x: number; y: number }[] = [];
  batches.forEach((cols) => cols.forEach((col, i) => col.forEach((y) => pts.push({ x: episodes[i], y }))));
  return pts;
}

function Txt({ x, y, children, size = 10, color = TEXT, rotate = 0, weight = 400, align = "center" }: any) {
  const tx = align === "left" ? "0" : "-50%";
  return (
    <div
      style={{
        position: "absolute",
        left: x,
        top: y,
        transform: `translate(${tx},-50%) rotate(${rotate}deg)`,
        fontSize: size,
        color,
        fontWeight: weight,
        whiteSpace: "nowrap",
        lineHeight: 1.15,
      }}
    >
      {children}
    </div>
  );
}

function Frame({ x, y, w, h }: any) {
  return (
    <div
      style={{
        position: "absolute",
        left: x,
        top: y,
        width: w,
        height: h,
        border: `1px solid ${SPINE}`,
        boxSizing: "border-box",
        pointerEvents: "none",
      }}
    />
  );
}

function Box({ x, y, w, h }: any) {
  return (
    <div
      style={{
        position: "absolute",
        left: x,
        top: y,
        width: w,
        height: h,
        border: "1px solid rgba(200,204,214,0.28)",
        borderRadius: 3,
        background: "rgba(53,58,73,0.8)",
        boxSizing: "border-box",
      }}
    />
  );
}

function ScatterPanel({ x0, y0, w, h, mt, mr, yw, domain, ticks, fmt, morld, random, refY, dotW, dotH }: any) {
  const shape = (color: string) => (p: any) =>
    <rect x={p.cx - dotW / 2} y={p.cy - dotH / 2} width={dotW} height={dotH} fill={color} />;
  const tickStyle = { fill: TICK, fontSize: 8.7, fontFamily: FONT };
  return (
    <>
      <div style={{ position: "absolute", left: x0, top: y0 }}>
        <ScatterChart width={w} height={h} margin={{ top: mt, right: mr, bottom: 0, left: 0 }}>
          <XAxis
            type="number"
            dataKey="x"
            domain={[-350, 7350]}
            ticks={episodeTicks}
            interval={0}
            height={20}
            axisLine={false}
            tickSize={3.5}
            tickMargin={2}
            tickLine={{ stroke: SPINE }}
            tick={tickStyle}
            allowDataOverflow
          />
          <YAxis
            type="number"
            dataKey="y"
            domain={domain}
            ticks={ticks}
            interval={0}
            width={yw}
            axisLine={false}
            tickSize={3.5}
            tickMargin={2}
            tickLine={{ stroke: SPINE }}
            tick={tickStyle}
            tickFormatter={fmt}
            allowDataOverflow
          />
          <Scatter data={toPoints(morld)} shape={shape(PT_ORANGE)} isAnimationActive={false} />
          <Scatter data={toPoints(random)} shape={shape(PT_BLUE)} isAnimationActive={false} />
          <ReferenceLine y={refY} stroke={CYAN} strokeWidth={2} />
        </ScatterChart>
      </div>
      <Frame x={x0 + yw} y={y0 + mt} w={w - yw - mr} h={h - mt - 20} />
    </>
  );
}

function ScatterLegend({ x, y, w }: any) {
  return (
    <>
      <Box x={x} y={y} w={w} h={28} />
      <div style={{ position: "absolute", left: x + 11, top: y + 7, width: 2, height: 2, background: PT_ORANGE }} />
      <div style={{ position: "absolute", left: x + 11, top: y + 19.5, width: 2, height: 2, background: PT_BLUE }} />
      <Txt x={x + 27} y={y + 8} size={8.7} align="left">MORLD</Txt>
      <Txt x={x + 27} y={y + 20.5} size={8.7} align="left">Random</Txt>
    </>
  );
}

function CompoundPanel({ x0, y0, unique, mean, std }: any) {
  const rows = unique.map((u: number, i: number) => ({
    x: episodes[i],
    unique: u,
    mean: mean[i],
    band: [mean[i] - std[i], mean[i] + std[i]],
  }));
  const W = 300;
  const H = 239;
  return (
    <>
      <div style={{ position: "absolute", left: x0, top: y0 }}>
        <ComposedChart width={W} height={H} data={rows} margin={{ top: 32, right: 0, bottom: 0, left: 0 }}>
          <XAxis
            type="number"
            dataKey="x"
            domain={[-345, 7245]}
            ticks={episodeTicks}
            interval={0}
            height={20}
            axisLine={false}
            tickSize={3.5}
            tickMargin={2}
            tickLine={{ stroke: SPINE }}
            tick={{ fill: TICK, fontSize: 8.2, fontFamily: FONT }}
            allowDataOverflow
          />
          <YAxis
            yAxisId="u"
            domain={[0, 115.4]}
            ticks={[0, 20, 40, 60, 80, 100]}
            interval={0}
            width={42}
            axisLine={false}
            tickSize={3.5}
            tickMargin={2}
            tickLine={{ stroke: SPINE }}
            tick={{ fill: "#3fd2c8", fontSize: 10.3, fontFamily: FONT }}
            allowDataOverflow
          />
          <YAxis
            yAxisId="e"
            orientation="right"
            reversed
            domain={[-17.03, -4.97]}
            ticks={[-16, -14, -12, -10, -8, -6]}
            interval={0}
            width={31}
            axisLine={false}
            tickSize={3.5}
            tickMargin={2}
            tickLine={{ stroke: SPINE }}
            tick={{ fill: "#e5895a", fontSize: 9, fontFamily: FONT }}
            tickFormatter={(v: number) => minus(String(v))}
            allowDataOverflow
          />
          <Line yAxisId="u" dataKey="unique" stroke={CYAN} strokeWidth={1.8} dot={false} isAnimationActive={false} />
          <Area yAxisId="e" dataKey="band" stroke="none" fill={ORANGE} fillOpacity={0.2} isAnimationActive={false} />
          <Line yAxisId="e" dataKey="mean" stroke={ORANGE} strokeWidth={1.8} dot={false} isAnimationActive={false} />
        </ComposedChart>
      </div>
      <Frame x={x0 + 42} y={y0 + 32} w={W - 42 - 31} h={H - 32 - 20} />
      <Box x={x0 + 47} y={y0 + 36} w={60} h={15.5} />
      <div style={{ position: "absolute", left: x0 + 50, top: y0 + 43, width: 18, height: 1.6, background: CYAN }} />
      <Txt x={x0 + 74} y={y0 + 43.5} size={8.6} align="left">unique</Txt>
      <Box x={x0 + 47} y={y0 + 199} w={133} h={15.5} />
      <div style={{ position: "absolute", left: x0 + 50, top: y0 + 206, width: 18, height: 1.6, background: ORANGE }} />
      <Txt x={x0 + 74} y={y0 + 206.5} size={8.6} align="left">Mean of binding energy</Txt>
    </>
  );
}

export default function App() {
  const histRows = simBins.map((b, i) => {
    const ov = Math.min(simMorld[i], simRandom[i]);
    return { x: b, ov, r: simRandom[i] - ov, m: simMorld[i] - ov };
  });

  return (
    <div
      style={{
        position: "relative",
        width: 904,
        height: 502,
        overflow: "hidden",
        background: BG,
        fontFamily: FONT,
      }}
    >
      <style>{`body{margin:0;background:${BG};}`}</style>

      {/* ---- row a ---- */}
      <Txt x={10.5} y={25} size={20} weight={700} color="#ffffff">a</Txt>
      <Txt x={169} y={11} size={10.3}>QuickVina 2 docking score</Txt>
      <Txt x={473} y={11} size={10.3}>SA score</Txt>
      <Txt x={777} y={11} size={10.3}>QED score</Txt>

      <ScatterPanel
        x0={0} y0={0} w={300} h={227} mt={19.5} mr={4} yw={42}
        domain={[-17.37, 0.07]}
        ticks={[0, -2, -4, -6, -8, -10, -12, -14, -16]}
        fmt={(v: number) => minus(String(v))}
        morld={[dockMorld, dockMorldB]} random={[dockRandom, dockRandomB]} refY={-12.7} dotW={3} dotH={2.3}
      />
      <ScatterPanel
        x0={300} y0={0} w={300} h={226} mt={19.3} mr={0} yw={47}
        domain={[0.193, 0.832]}
        ticks={[0.2, 0.3, 0.4, 0.5, 0.6, 0.7, 0.8]}
        fmt={(v: number) => v.toFixed(1)}
        morld={[saMorld, saMorldB]} random={[saRandom, saRandomB]} refY={0.782} dotW={7} dotH={2}
      />
      <ScatterPanel
        x0={604} y0={0} w={300} h={227} mt={19.3} mr={1} yw={48}
        domain={[-0.016, 0.546]}
        ticks={[0, 0.1, 0.2, 0.3, 0.4, 0.5]}
        fmt={(v: number) => v.toFixed(1)}
        morld={[qedMorld, qedMorldB]} random={[qedRandom, qedRandomB]} refY={0.391} dotW={7} dotH={2}
      />
      <ScatterLegend x={47} y={174} w={66} />
      <ScatterLegend x={351} y={23.5} w={66} />
      <ScatterLegend x={655} y={23.5} w={67} />

      <Txt x={10} y={113} size={8.8} rotate={-90}>kcal/mol</Txt>
      <Txt x={319} y={113} size={8.8} rotate={-90}>SA</Txt>
      <Txt x={623} y={113} size={8.8} rotate={-90}>QED</Txt>
      <Txt x={169} y={228} size={8.5}>Episode</Txt>
      <Txt x={473} y={228} size={8.5}>Episode</Txt>
      <Txt x={777} y={228} size={8.5}>Episode</Txt>

      {/* ---- row b ---- */}
      <Txt x={10.5} y={272} size={20} weight={700} color="#ffffff">b</Txt>
      <Txt x={156} y={278} size={10.3}>Generated compounds from MORLD</Txt>
      <Txt x={474} y={278} size={10.3}>Generated compounds from Random</Txt>
      <CompoundPanel x0={0} y0={255} unique={morldUnique} mean={morldMean} std={morldStd} />
      <CompoundPanel x0={317} y0={255} unique={randomUnique} mean={randomMean} std={randomStd} />
      <Txt x={12.5} y={380} size={10.4} rotate={-90}>unique/ 100 compounds</Txt>
      <Txt x={329} y={380} size={10.4} rotate={-90}>unique/ 100 compounds</Txt>
      <Txt x={300} y={382} size={10} rotate={-90}>kcal/mol</Txt>
      <Txt x={618} y={382} size={10} rotate={-90}>kcal/mol</Txt>
      <Txt x={156} y={496} size={9.8}>per 100 episodes</Txt>
      <Txt x={474} y={496} size={9.8}>per 100 episodes</Txt>

      {/* ---- c ---- */}
      <Txt x={652} y={276} size={20} weight={700} color="#ffffff">c</Txt>
      <Txt x={791} y={278} size={10.3}>Simliarity to Ponatinib</Txt>
      <div style={{ position: "absolute", left: 634, top: 255 }}>
        <ComposedChart width={276} height={239} data={histRows} margin={{ top: 32, right: 0, bottom: 0, left: 0 }}>
          <XAxis
            type="number"
            dataKey="x"
            domain={[0.472, 1.028]}
            ticks={[0.5, 0.6, 0.7, 0.8, 0.9, 1.0]}
            interval={0}
            height={20}
            axisLine={false}
            tickSize={3.5}
            tickMargin={2}
            tickLine={{ stroke: SPINE }}
            tick={{ fill: TICK, fontSize: 8.3, fontFamily: FONT }}
            tickFormatter={(v: number) => v.toFixed(1)}
            allowDataOverflow
          />
          <YAxis
            domain={[0, 483]}
            ticks={[0, 100, 200, 300, 400]}
            interval={0}
            width={43}
            axisLine={false}
            tickSize={3.5}
            tickMargin={2}
            tickLine={{ stroke: SPINE }}
            tick={{ fill: TICK, fontSize: 8, fontFamily: FONT }}
            allowDataOverflow
          />
          <Bar dataKey="ov" stackId="h" fill={H_OVER} barSize={2} isAnimationActive={false} />
          <Bar dataKey="r" stackId="h" fill={H_BLUE} barSize={2} isAnimationActive={false} />
          <Bar dataKey="m" stackId="h" fill={H_BROWN} barSize={2} isAnimationActive={false} />
          <ReferenceLine x={meanRandomSim} stroke="#22c6dc" strokeWidth={1.5} strokeDasharray="3 2" />
          <ReferenceLine x={meanMorldSim} stroke="#c4c93a" strokeWidth={1.5} strokeDasharray="3 2" />
        </ComposedChart>
      </div>
      <Frame x={677} y={287} w={240} h={187} />
      <Box x={790} y={291.5} w={111} h={52.5} />
      <div style={{ position: "absolute", left: 793, top: 297.5, width: 17, borderTop: "1.6px dashed #c4c93a" }} />
      <div style={{ position: "absolute", left: 793, top: 310, width: 17, borderTop: "1.6px dashed #22c6dc" }} />
      <div style={{ position: "absolute", left: 793, top: 319.5, width: 17, height: 6, background: H_BROWN }} />
      <div style={{ position: "absolute", left: 793, top: 332.5, width: 17, height: 6, background: H_BLUE }} />
      <Txt x={817} y={298.5} size={8.1} align="left">mean of MORLD</Txt>
      <Txt x={817} y={311} size={8.1} align="left">meand of Random</Txt>
      <Txt x={817} y={323} size={8.1} align="left">MORLD</Txt>
      <Txt x={817} y={336} size={8.1} align="left">Random</Txt>
      <Txt x={647} y={380} size={10} rotate={-90}>frequency</Txt>
      <Txt x={792} y={496} size={10}>Simliarty</Txt>
    </div>
  );
}
